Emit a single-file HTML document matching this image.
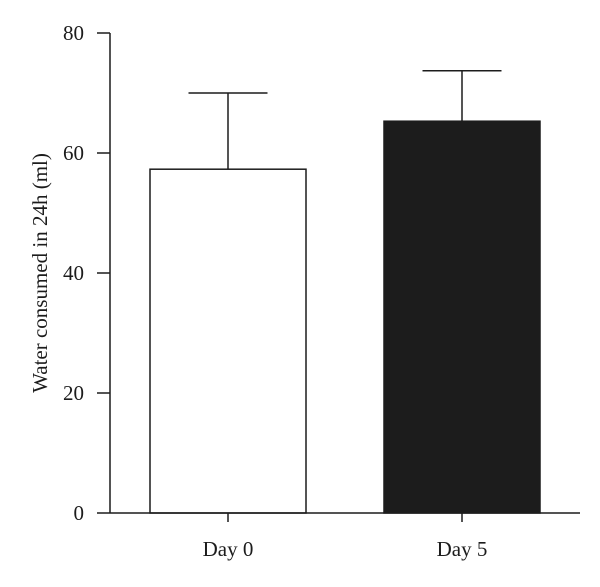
<!DOCTYPE html>
<html><head><meta charset="utf-8"><style>
body{margin:0;background:#fff;}
svg{display:block;font-family:"Liberation Serif",serif;}
</style></head><body>
<svg id="chart" width="600" height="587"></svg>
<script>
const categories=["Day 0","Day 5"];
const values=[57.3,65.3];
const errors=[12.7,8.4];
const fills=["#ffffff","#1c1c1c"];
const yTicks=[0,20,40,60,80];
const svg=document.getElementById('chart');
const NS='http://www.w3.org/2000/svg';
const y0=513,y1=33,vmax=80;
const yS=v=>y0-(v/vmax)*(y0-y1);
const centers=[228,462],bw=156,cw=79;
function mk(t,a,p){const e=document.createElementNS(NS,t);for(const k in a)e.setAttribute(k,a[k]);(p||svg).appendChild(e);return e;}
categories.forEach((c,i)=>{
  const cx=centers[i];
  const err=mk('g',{});
  
  
  mk('line',{x1:cx,x2:cx,y1:yS(values[i]),y2:yS(values[i]+errors[i]),stroke:'#1c1c1c','stroke-width':1.5},err);
  mk('line',{x1:cx-cw/2,x2:cx+cw/2,y1:yS(values[i]+errors[i]),y2:yS(values[i]+errors[i]),stroke:'#1c1c1c','stroke-width':1.5},err);
  const r=mk('rect',{x:cx-bw/2,y:yS(values[i]),width:bw,height:y0-yS(values[i]),fill:fills[i],stroke:'#1c1c1c','stroke-width':1.5});
  
  
  mk('line',{x1:cx,x2:cx,y1:y0,y2:y0+9,stroke:'#1c1c1c','stroke-width':1.5});
  const t=mk('text',{x:cx,y:556,'text-anchor':'middle','font-size':21,fill:'#1c1c1c'});
  t.textContent=c;
  
  
});
yTicks.forEach(v=>{
  mk('line',{x1:97,x2:110,y1:yS(v),y2:yS(v),stroke:'#1c1c1c','stroke-width':1.5});
  const t=mk('text',{x:84,y:yS(v)+7,'text-anchor':'end','font-size':21,fill:'#1c1c1c'});
  t.textContent=v;
  
  
});
const ya=mk('line',{x1:110,x2:110,y1:y1,y2:y0,stroke:'#1c1c1c','stroke-width':1.5});


const xa=mk('line',{x1:110,x2:580,y1:y0,y2:y0,stroke:'#1c1c1c','stroke-width':1.5});


const yt=mk('text',{x:0,y:0,transform:'translate(47,273) rotate(-90)','text-anchor':'middle','font-size':21,fill:'#1c1c1c'});
yt.textContent='Water consumed in 24h (ml)';


</script>
</body></html>
